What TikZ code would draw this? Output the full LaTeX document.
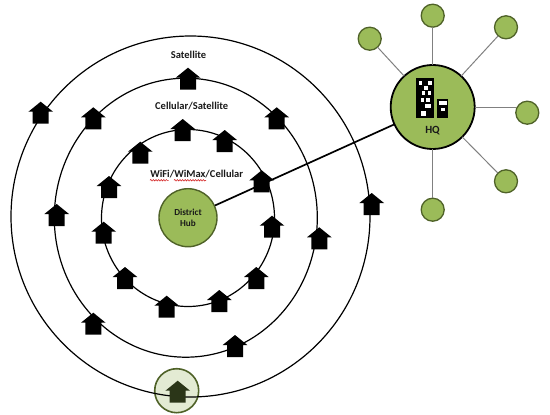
\documentclass[tikz,border=0pt]{standalone}
\usepackage{fontspec}
\setmainfont{Carlito}
\usetikzlibrary{shapes.geometric,decorations.pathmorphing}
\definecolor{hubgreen}{HTML}{9BBB59}
\definecolor{hubedge}{HTML}{4F6228}
\definecolor{palegreen}{HTML}{E3EBD3}
\definecolor{darkhouse}{HTML}{2B3618}
\tikzset{
  x=1pt,y=-1pt,
  ring/.style={draw=black,line width=1.2pt,ellipse,inner sep=0pt,outer sep=0pt},
  sat/.style={circle,draw=hubedge,line width=1.3pt,fill=hubgreen,inner sep=0pt,outer sep=0pt,minimum size=23pt},
  spoke/.style={draw=black!50,line width=1pt},
  label/.style={font=\bfseries\fontsize{10.5}{12}\selectfont,text=black!90,inner sep=0pt,align=center},
  squig/.style={draw=red!80!black,line width=0.45pt,decorate,decoration={snake,amplitude=0.8pt,segment length=2.6pt}},
  pics/homeicon/.style={code={
    \fill[#1] (0,0) -- (12.3,10) -- (8,10) -- (8,22) -- (-8,22) -- (-8,10) -- (-12.3,10) -- cycle;
  }},
  win/.style={fill=white,draw=none}
}
\begin{document}
\begin{tikzpicture}
\useasboundingbox (0,0) rectangle (550,415);
% highlighted building circle
\node[circle,draw=hubedge,line width=1.6pt,fill=palegreen,inner sep=0pt,minimum size=44pt] (mark) at (176.7,390.7) {};
% rings
\node[ring,minimum width=359pt,minimum height=361pt] (outer) at (190.5,216.5) {};
\node[ring,minimum width=263pt,minimum height=279pt] (middle) at (185.8,217.7) {};
\node[ring,minimum width=173pt,minimum height=177pt] (inner) at (188,218) {};
% hub and HQ
\node[circle,draw=hubedge,line width=1.4pt,fill=hubgreen,inner sep=0pt,minimum size=58pt,align=center,font=\bfseries\fontsize{9.2}{11.5}\selectfont,text=black!90] (hub) at (188,217.7) {District\\Hub};
\node[circle,draw=black,line width=1.8pt,fill=hubgreen,inner sep=0pt,outer sep=0pt,minimum size=84pt] (hq) at (432.7,107) {};
\draw[line width=1.7pt] (hub) -- (hq);
% satellites
\node[sat] (s1) at (432.7,15.7) {};
\node[sat] (s2) at (506,27.3) {};
\node[sat] (s3) at (527.3,112.7) {};
\node[sat] (s4) at (506,181.3) {};
\node[sat] (s5) at (432.7,209.7) {};
\node[sat] (s6) at (369.7,38.7) {};
\foreach \s in {s1,s2,s4,s5,s6} \draw[spoke] (hq) -- (\s);
\coordinate (s3tap) at (516,107);
\draw[spoke] (hq.east |- s3tap) -- (s3tap);
% houses
\foreach \hx/\hy in {40.7/101.7,56.7/204,93.3/107.3,93.3/312.7,188/67.7,276.7/107.3,319.3/227.3,235/335,371.7/193,109/176,103.7/221.7,125/267,166.7/295.7,219.3/290,256.3/267,272/215.7,261.7/170.3,224.7/130,182.7/119,140.3/141.7}
  \pic at (\hx,\hy) {homeicon=black};
\pic at (177.7,380.7) {homeicon=darkhouse};
% building icon
\fill[black] (416.3,78.3) rectangle (433.7,118.3);
\fill[black] (437,99) rectangle (448.3,118.3);
\foreach \wx/\wy/\ww/\wh in {419/81/3/4,428/81/3.5/3.5,424/86/3.5/4,421.5/91/3/3.5,428/91/3/3.5,421/98/3/3.5,426/98/3.5/3.5,424.5/104/6/4,421/111/5/5,438.5/100.5/8/4,441/107.5/3.5/3.5}
  \fill[win] (\wx,\wy) rectangle ++(\ww,\wh);
\node[label,font=\bfseries\fontsize{11}{12}\selectfont] (hqlabel) at (432.5,131) {HQ};
% labels
\node[label] (t1) at (188.5,54.7) {Satellite};
\node[label] (t2) at (191.7,106) {Cellular/Satellite};
\node[label] (t3) at (196.7,174) {WiFi/WiMax/Cellular};
\draw[squig] (150,180.3) -- (168.5,180.3);
\draw[squig] (174,180.3) -- (206,180.3);
\end{tikzpicture}
\end{document}
